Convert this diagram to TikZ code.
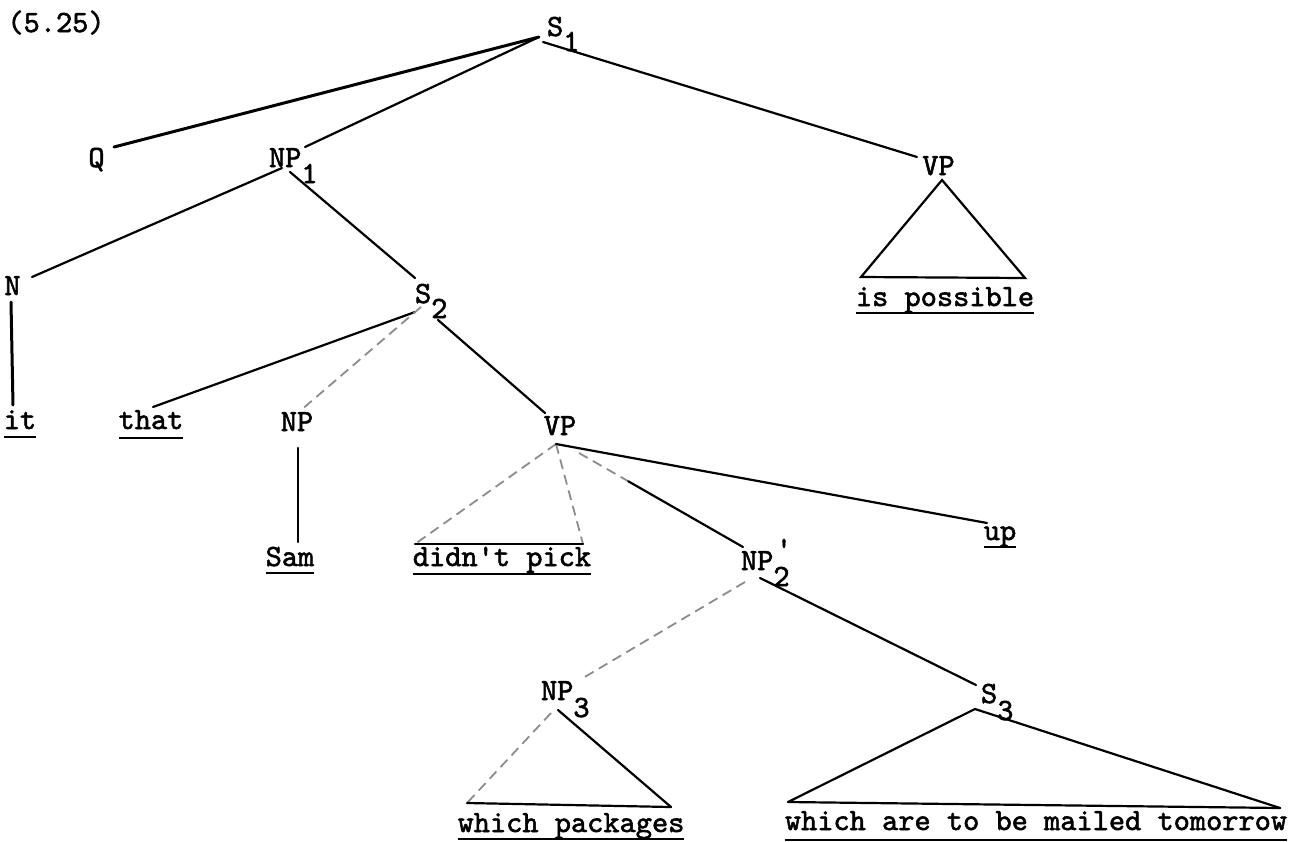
\documentclass[tikz,border=0pt]{standalone}
\usepackage{fontspec}
\usetikzlibrary{calc}
\newfontfamily\tw{lmmono10-regular.otf}[FakeBold=1.8,Ligatures=TeXOff]
\begin{document}
\begin{tikzpicture}[x=0.5pt,y=-0.5pt,
  lbl/.style={inner sep=0pt, outer sep=0pt, font=\tw\fontsize{15.43pt}{15.43pt}\selectfont, anchor=base west},
  wrd/.style={lbl, anchor=base},
  edge/.style={line width=1.1pt, line cap=round},
  heavy/.style={line width=1.5pt, line cap=round},
  faint/.style={line width=0.9pt, draw=black!45, dash pattern=on 5pt off 3pt},
  uline/.style={line width=1.2pt}]
\useasboundingbox (0,0) rectangle (1310,841);

% labels
\node[wrd] (num)  at (56,32)     {(5.25)};
\node[lbl] (S1)   at (547,36)    {S\raisebox{-7.5pt}{1}};
\node[wrd] (Q)    at (96.5,167)  {Q};
\node[lbl] (NP1)  at (269,167)   {NP\raisebox{-8pt}{1}};
\node[wrd] (VPa)  at (938.5,175) {VP};
\node[wrd] (poss) at (945,306)   {is possible};
\node[wrd] (N)    at (12.5,295)  {N};
\node[lbl] (S2)   at (415,303)   {S\raisebox{-7.5pt}{2}};
\node[wrd] (it)   at (20,429)    {it};
\node[wrd] (that) at (151,429)   {that};
\node[wrd] (NP)   at (297,431)   {NP};
\node[wrd] (VPb)  at (560,435)   {VP};
\node[wrd] (Sam)  at (290,566)   {Sam};
\node[wrd] (pick) at (502,566)   {didn't pick};
\node[wrd] (up)   at (1000,540)  {up};
\node[lbl] (NP2)  at (741,570)   {NP\raisebox{-8pt}{2}};
\node[wrd] (NP2p) at (784,558)   {'};
\node[lbl] (NP3)  at (541,700)   {NP\raisebox{-8.5pt}{3}};
\node[lbl] (S3)   at (981,703)   {S\raisebox{-8.5pt}{3}};
\node[wrd] (pk)   at (571,832)   {which packages};
\node[wrd] (rel)  at (1036,830)  {which are to be mailed tomorrow};

% attachment points
\coordinate (S1-v)  at (539,37);
\coordinate (S1-r)  at (543,42);
\coordinate (Q-t)   at (114,147);
\coordinate (NP1-t) at (305,147);
\coordinate (VPa-t) at (917,157);
\coordinate (VPa-v) at (942,180);
\coordinate (VPa-l) at (861,277);
\coordinate (VPa-r) at (1025,278);
\coordinate (NP1-l) at (282,168);
\coordinate (NP1-r) at (290,172);
\coordinate (N-t)   at (32,277);
\coordinate (S2-t)  at (415,278);
\coordinate (N-b)   at (11,302);
\coordinate (it-t)  at (13,405);
\coordinate (S2-l)  at (415,312);
\coordinate (S2-v)  at (421,307);
\coordinate (S2-r)  at (438,320);
\coordinate (that-t) at (153,407);
\coordinate (NP-t)  at (300,411);
\coordinate (VPb-t) at (545,413);
\coordinate (NP-b)  at (298,448);
\coordinate (Sam-t) at (298,542);
\coordinate (VPb-v) at (556,444);
\coordinate (VPb-r) at (579,453);
\coordinate (pick-l) at (415,544);
\coordinate (pick-r) at (583,544);
\coordinate (up-t)  at (987,523);
\coordinate (NP2-t) at (743,547);
\coordinate (NP2-l) at (745,582);
\coordinate (NP2-r) at (760,578);
\coordinate (S3-t)  at (976,685);
\coordinate (NP3-t) at (583,678);
\coordinate (NP3-l) at (551,713);
\coordinate (NP3-r) at (558,710);
\coordinate (pk-l)  at (467,803);
\coordinate (pk-r)  at (671,807);
\coordinate (S3-v)  at (975,709);
\coordinate (rel-l) at (788,802);
\coordinate (rel-r) at (1280,808);
\coordinate (NP2-m) at ($(VPb-r)!0.3!(NP2-t)$);

% connectors
\draw[heavy] (S1-v) -- (Q-t);
\draw[edge]  (S1-v) -- (NP1-t);
\draw[edge]  (S1-r) -- (VPa-t);
\draw[edge]  (VPa-l) -- (VPa-v) -- (VPa-r) -- cycle;
\draw[edge]  (NP1-l) -- (N-t);
\draw[edge]  (NP1-r) -- (S2-t);
\draw[heavy] (N-b) -- (it-t);
\draw[edge]  (S2-l) -- (that-t);
\draw[faint] (S2-v) -- (NP-t);
\draw[edge]  (S2-r) -- (VPb-t);
\draw[edge]  (NP-b) -- (Sam-t);
\draw[faint] (VPb-v) -- (pick-l);
\draw[faint] (VPb-v) -- (pick-r);
\draw[edge]  (pick-l) -- (pick-r);
\draw[edge]  (VPb-v) -- (up-t);
\draw[faint] (VPb-r) -- (NP2-m);
\draw[edge]  (NP2-m) -- (NP2-t);
\draw[edge]  (NP2-r) -- (S3-t);
\draw[faint] (NP2-l) -- (NP3-t);
\draw[faint] (NP3-l) -- (pk-l);
\draw[edge]  (NP3-r) -- (pk-r);
\draw[edge]  (pk-l) -- (pk-r);
\draw[edge]  (S3-v) -- (rel-l);
\draw[edge]  (S3-v) -- (rel-r);
\draw[edge]  (rel-l) -- (rel-r);

% underlines
\foreach \w/\d in {it/4, that/4.5, Sam/3.5, pick/4, up/3.5, poss/3.5, pk/3.5, rel/5}
  \draw[uline] ([yshift=-\d pt]\w.base west) -- ([yshift=-\d pt]\w.base east);
\end{tikzpicture}
\end{document}
